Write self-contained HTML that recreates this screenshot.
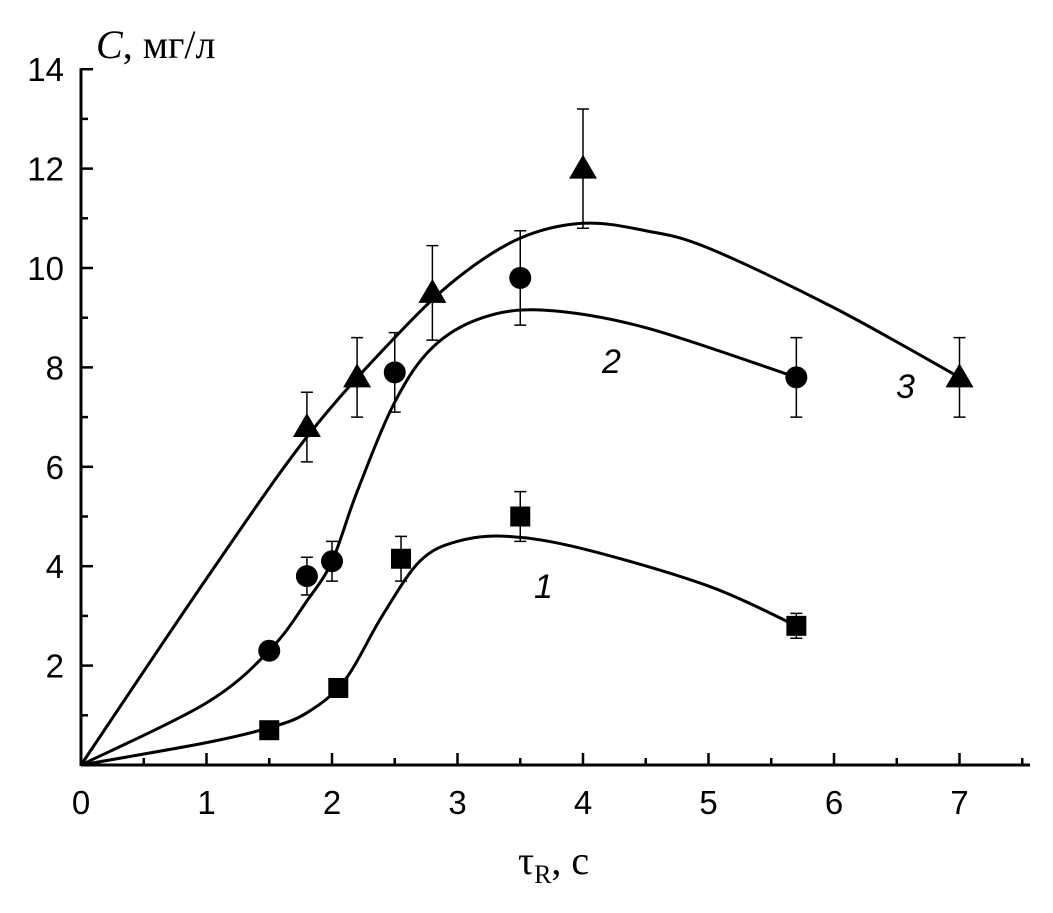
<!DOCTYPE html>
<html><head><meta charset="utf-8"><style>
html,body{margin:0;padding:0;background:#fff;}
svg{display:block;}
</style></head><body>
<svg id="chart" width="1053" height="913" viewBox="0 0 1053 913" xmlns="http://www.w3.org/2000/svg">
<g id="axes"></g>
<g id="curves"></g>
<g id="marks"></g>
<text x="96" y="58" font-family="Liberation Serif, serif" font-size="40"><tspan font-style="italic">C</tspan>, мг/л</text>
<text x="518" y="874" font-family="Liberation Serif, serif" font-size="40">τ<tspan font-size="26" dy="9">R</tspan><tspan dy="-9">, с</tspan></text>
<text x="534" y="598" font-family="Liberation Sans, sans-serif" font-size="34" font-style="italic">1</text>
<text x="602" y="373" font-family="Liberation Sans, sans-serif" font-size="34" font-style="italic">2</text>
<text x="896" y="398" font-family="Liberation Sans, sans-serif" font-size="34" font-style="italic">3</text>
</svg>
<script>
const xTicks=[0,1,2,3,4,5,6,7];
const yTicks=[2,4,6,8,10,12,14];
const s1x=[1.5,2.05,2.55,3.5,5.7];
const s1y=[0.7,1.55,4.15,5.0,2.8];
const s1e=[0,0,0.45,0.5,0.25];
const s2x=[1.5,1.8,2.0,2.5,3.5,5.7];
const s2y=[2.3,3.8,4.1,7.9,9.8,7.8];
const s2e=[0,0.38,0.4,0.8,0.95,0.8];
const s3x=[1.8,2.2,2.8,4.0,7.0];
const s3y=[6.8,7.8,9.5,12.0,7.8];
const s3e=[0.7,0.8,0.95,1.2,0.8];
const c1x=[0,1,1.5,1.8,2.1,2.4,2.7,3.0,3.4,4,5,5.7];
const c1y=[0,0.45,0.75,1.05,1.7,3.0,4.1,4.5,4.6,4.35,3.6,2.8];
const c2x=[0,1,1.5,1.8,2.0,2.2,2.5,2.8,3.2,3.7,4.5,5.7];
const c2y=[0,1.25,2.3,3.3,4.1,5.5,7.3,8.4,9.0,9.15,8.8,7.8];
const c3x=[0,1,1.8,2.5,3,3.5,4,4.5,5,6,7];
const c3y=[0,3.75,6.6,8.6,9.8,10.6,10.9,10.75,10.4,9.2,7.8];

const X0=81,XS=125.5,Y0=765,YS=49.7;
const sx=v=>X0+v*XS, sy=v=>Y0-v*YS;
const NS='http://www.w3.org/2000/svg';
function mk(tag,attrs,parent){const e=document.createElementNS(NS,tag);for(const k in attrs)e.setAttribute(k,attrs[k]);parent.appendChild(e);return e;}
const axes=document.getElementById('axes');
let e=mk('line',{x1:X0,y1:Y0,x2:1030,y2:Y0,stroke:'#000','stroke-width':3},axes);


e=mk('line',{x1:X0,y1:Y0+1,x2:X0,y2:sy(14)-1,stroke:'#000','stroke-width':3},axes);


xTicks.forEach(t=>{
  const m=mk('line',{x1:sx(t),y1:Y0,x2:sx(t),y2:Y0-12,stroke:'#000','stroke-width':2.5},axes);
  
  
  const n=mk('line',{x1:sx(t+0.5),y1:Y0,x2:sx(t+0.5),y2:Y0-7,stroke:'#000','stroke-width':2.5},axes);
  
  
  const l=mk('text',{x:sx(t),y:814,'text-anchor':'middle','font-family':'Liberation Sans, sans-serif','font-size':33},axes);
  l.textContent=t;
  
  
});
yTicks.forEach(t=>{
  const m=mk('line',{x1:X0,y1:sy(t),x2:X0+12,y2:sy(t),stroke:'#000','stroke-width':2.5},axes);
  
  
  const n=mk('line',{x1:X0,y1:sy(t-1),x2:X0+7,y2:sy(t-1),stroke:'#000','stroke-width':2.5},axes);
  
  
  const l=mk('text',{x:64,y:sy(t)+12,'text-anchor':'end','font-family':'Liberation Sans, sans-serif','font-size':33},axes);
  l.textContent=t;
  
  
});
function smooth(xs,ys){
  const p=xs.map((x,i)=>[sx(x),sy(ys[i])]);
  let d='M'+p[0][0]+','+p[0][1];
  for(let i=0;i<p.length-1;i++){
    const a=p[i-1]||p[i],b=p[i],c=p[i+1],f=p[i+2]||c;
    d+=' C'+(b[0]+(c[0]-a[0])/6)+','+(b[1]+(c[1]-a[1])/6)+' '+(c[0]-(f[0]-b[0])/6)+','+(c[1]-(f[1]-b[1])/6)+' '+c[0]+','+c[1];
  }
  return d;
}
const cg=document.getElementById('curves');
[[c1x,c1y,'fit-curve-1'],[c2x,c2y,'fit-curve-2'],[c3x,c3y,'fit-curve-3']].forEach(([xs,ys,nm])=>{
  const p=mk('path',{d:smooth(xs,ys),fill:'none',stroke:'#000','stroke-width':3},cg);
  
  
});
const mg=document.getElementById('marks');
function err(x,y,er){
  if(!er)return;
  const cx=sx(x),t=sy(y+er),b=sy(y-er);
  const g=mk('path',{d:`M${cx},${t}V${b}M${cx-6},${t}H${cx+6}M${cx-6},${b}H${cx+6}`,stroke:'#000','stroke-width':1.5,fill:'none'},mg);
  
  
}
s1x.forEach((x,i)=>{err(x,s1y[i],s1e[i]);
  const r=mk('rect',{x:sx(x)-10,y:sy(s1y[i])-10,width:20,height:20,fill:'#000'},mg);
  
  });
s2x.forEach((x,i)=>{err(x,s2y[i],s2e[i]);
  const c=mk('circle',{cx:sx(x),cy:sy(s2y[i]),r:11,fill:'#000'},mg);
  
  });
s3x.forEach((x,i)=>{err(x,s3y[i],s3e[i]);
  const cx=sx(x),cy=sy(s3y[i]);
  const t=mk('polygon',{points:`${cx},${cy-14} ${cx+14},${cy+10} ${cx-14},${cy+10}`,fill:'#000'},mg);
  
  });
</script>
</body></html>
